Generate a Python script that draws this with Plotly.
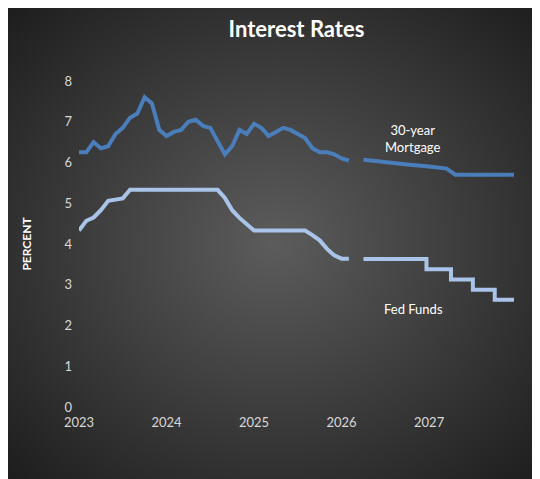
import plotly.graph_objects as go
import base64

# Historical monthly data
hist_x = [2023 + i/12 for i in range(38)]
mortgage_hist = [6.25,6.25,6.5,6.35,6.4,6.7,6.85,7.1,7.2,7.6,7.45,6.8,
                 6.65,6.75,6.8,7.0,7.05,6.9,6.85,6.5,6.2,6.4,6.8,6.7,
                 6.95,6.85,6.65,6.75,6.85,6.8,6.7,6.6,6.35,6.25,6.25,6.2,
                 6.1,6.05]
fed_hist = [4.33,4.57,4.65,4.83,5.06,5.08,5.12,5.33,5.33,5.33,5.33,5.33,
            5.33,5.33,5.33,5.33,5.33,5.33,5.33,5.33,5.13,4.83,4.64,4.48,
            4.33,4.33,4.33,4.33,4.33,4.33,4.33,4.33,4.22,4.09,3.88,3.72,
            3.64,3.64]
# Forecast
mort_fc_x = [2026.25,2026.5,2026.75,2027.0,2027.2,2027.3,2027.97]
mort_fc = [6.07,6.0,5.95,5.9,5.85,5.7,5.7]
fed_fc_x = [2026.25,2026.97,2027.25,2027.5,2027.75,2027.97]
fed_fc = [3.63,3.38,3.13,2.88,2.63,2.63]

years = [2023,2024,2025,2026,2027]

W,H = 532,471
L,R,T,B = 71,26,73,72
pw, ph = W-L-R, H-T-B

svg = f'''<svg xmlns="http://www.w3.org/2000/svg" width="{W}" height="{H}">
<defs><radialGradient id="g" cx="50%" cy="50%" r="70%">
<stop offset="0%" stop-color="#5c5c5c"/><stop offset="100%" stop-color="#1e1e1e"/>
</radialGradient></defs><rect width="{W}" height="{H}" fill="url(#g)"/></svg>'''
src = "data:image/svg+xml;base64," + base64.b64encode(svg.encode()).decode()

C1, C2 = "#4a7ebb", "#a9c4e8"
fig = go.Figure()
fig.add_trace(go.Scatter(x=hist_x, y=mortgage_hist, mode="lines", line=dict(color=C1, width=4)))
fig.add_trace(go.Scatter(x=mort_fc_x, y=mort_fc, mode="lines", line=dict(color=C1, width=4)))
fig.add_trace(go.Scatter(x=hist_x, y=fed_hist, mode="lines", line=dict(color=C2, width=4)))
fig.add_trace(go.Scatter(x=fed_fc_x, y=fed_fc, mode="lines", line=dict(color=C2, width=4, shape="hv")))

font = "Lato"
fig.update_layout(
    width=W, height=H, margin=dict(l=L, r=R, t=T, b=B),
    paper_bgcolor="#1e1e1e", plot_bgcolor="rgba(0,0,0,0)", showlegend=False,
    font=dict(family=font, color="#d9d9d9", size=13),
    title=dict(text="<b>Interest Rates</b>", x=0.5, xref="paper", y=0.955, yanchor="middle",
               font=dict(size=22, color="white", family=font)),
    xaxis=dict(range=[2023, 2027.97], tickvals=years, ticktext=[str(y) for y in years],
               showgrid=False, zeroline=False, showline=False, ticks="", ticklabelstandoff=6),
    yaxis=dict(range=[0, 8], dtick=1, showgrid=False, zeroline=False, showline=False,
               ticklabelstandoff=6,
               title=dict(text="<b>PERCENT</b>", font=dict(size=12, color="white"), standoff=30)),
    images=[dict(source=src, xref="paper", yref="paper", x=-L/pw, y=1+T/ph,
                 sizex=W/pw, sizey=H/ph, sizing="stretch", layer="below",
                 xanchor="left", yanchor="top")],
    annotations=[
        dict(x=2026.82, y=6.6, text="30-year<br>Mortgage", showarrow=False,
             font=dict(size=13, color="white")),
        dict(x=2026.82, y=2.4, text="Fed Funds", showarrow=False,
             font=dict(size=13, color="white")),
    ],
)
fig.write_html("out.html")
